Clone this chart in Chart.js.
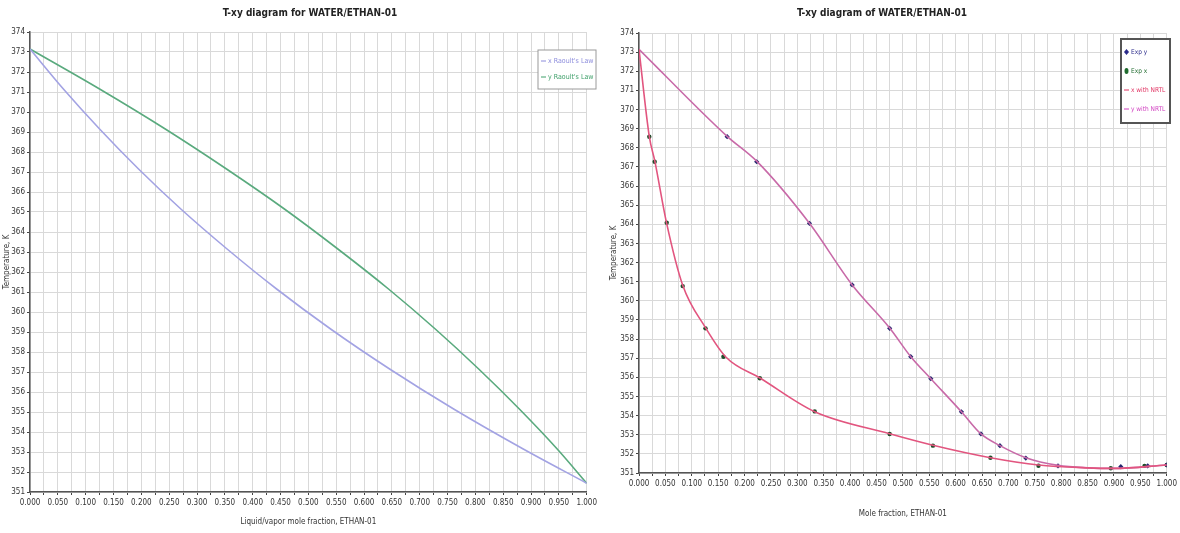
<!DOCTYPE html>
<html><head><meta charset="utf-8">
<script src="https://cdn.jsdelivr.net/npm/chart.js@4.4.1/dist/chart.umd.min.js"></script>
<style>
html,body{margin:0;padding:0;background:#fff;}
#wrap{position:relative;width:1180px;height:533px;overflow:hidden;background:#fff;}
.box{position:absolute;top:0;height:533px;}
</style></head><body>
<div id="wrap">
<div class="box" style="left:0;width:600px"><canvas id="c1" width="600" height="533"></canvas></div>
<div class="box" style="left:600px;width:580px"><canvas id="c2" width="580" height="533"></canvas></div>
</div>
<script>
// ---------- LEFT CHART DATA (Raoult's law) ----------
const leftTitle = 'T-xy diagram for WATER/ETHAN-01';
const leftXTitle = 'Liquid/vapor mole fraction, ETHAN-01';
const leftYTitle = 'Temperature, K';
const leftSeriesNames = ["x Raoult's Law", "y Raoult's Law"];
const leftTemp     = [373.15, 371.15, 369.15, 367.15, 365.15, 363.15, 361.15, 359.15, 357.15, 355.15, 353.15, 351.44];
const leftXLiquid  = [0, 0.060, 0.125, 0.195, 0.271, 0.354, 0.443, 0.540, 0.646, 0.761, 0.886, 1];
const leftYVapor   = [0, 0.125, 0.243, 0.353, 0.457, 0.553, 0.644, 0.728, 0.806, 0.879, 0.947, 1];

// ---------- RIGHT CHART DATA (experimental + NRTL) ----------
const rightTitle = 'T-xy diagram of WATER/ETHAN-01';
const rightXTitle = 'Mole fraction, ETHAN-01';
const rightYTitle = 'Temperature, K';
const rightSeriesNames = ['Exp y', 'Exp x', 'x with NRTL', 'y with NRTL'];
const expYx = [0.167, 0.223, 0.323, 0.404, 0.475, 0.515, 0.553, 0.611, 0.648, 0.684, 0.733, 0.794, 0.913, 0.964, 1.0];
const expYt = [368.58, 367.27, 364.05, 360.83, 358.56, 357.08, 355.93, 354.20, 353.04, 352.43, 351.78, 351.37, 351.33, 351.37, 351.42];
const expXx = [0.0195, 0.0297, 0.0525, 0.0828, 0.126, 0.160, 0.229, 0.333, 0.475, 0.557, 0.666, 0.757, 0.894, 0.958, 1.0];
const expXt = [368.58, 367.27, 364.08, 360.77, 358.56, 357.08, 355.95, 354.22, 353.04, 352.43, 351.80, 351.38, 351.25, 351.37, 351.42];
const nrtlXx = [0, 0.0195, 0.030, 0.052, 0.083, 0.126, 0.165, 0.230, 0.333, 0.475, 0.557, 0.666, 0.757, 0.850, 0.900, 1.0];
const nrtlXt = [373.15, 368.6, 367.3, 364.1, 360.8, 358.6, 357.05, 355.95, 354.2, 353.05, 352.45, 351.8, 351.42, 351.27, 351.24, 351.42];
const nrtlYx = [0, 0.167, 0.223, 0.323, 0.404, 0.475, 0.515, 0.553, 0.611, 0.648, 0.684, 0.733, 0.794, 0.850, 0.900, 1.0];
const nrtlYt = [373.15, 368.6, 367.3, 364.05, 360.83, 358.58, 357.08, 355.93, 354.2, 353.04, 352.43, 351.8, 351.4, 351.27, 351.24, 351.42];

// ---------- helpers ----------
const FONT = "'Liberation Sans Narrow','DejaVu Sans Condensed','Liberation Sans',Arial,sans-serif";
function pts(xs, ts){ return xs.map((x,i)=>({x:x, y:ts[i]})); }

function scales(o){
  return {
    x:{type:'linear', min:0, max:1,
      ticks:{stepSize:0.025, autoSkip:false, maxRotation:0, minRotation:0, color:'#333', padding:o.xPad,
        font:{family:FONT, size:8},
        callback:(v)=> (Math.round(v*1000)%50===0 ? (Math.round(v*1000)/1000).toFixed(3) : '')},
      grid:{color:'#d9d9d9', lineWidth:1, tickColor:'#444', tickLength:3},
      border:{color:'#555', width:1.5},
      title:{display:true, text:o.xTitle, color:'#333', font:{family:FONT, size:8}, padding:o.xTitlePad},
      afterFit:(s)=>{ s.height = o.xH; }
    },
    y:{type:'linear', min:351, max:374,
      ticks:{stepSize:1, autoSkip:false, color:'#333', padding:2, font:{family:FONT, size:8},
        callback:(v)=> String(Math.round(v))},
      grid:{color:'#d9d9d9', lineWidth:1, tickColor:'#444', tickLength:3},
      border:{color:'#555', width:1.5},
      title:{display:true, text:o.yTitle, color:'#333', font:{family:FONT, size:8}, padding:{top:o.yTitlePad,bottom:0}},
      afterFit:(s)=>{ s.width = o.yW; }
    }
  };
}

function decor(o){
  return {
    id:'decor'+o.id,
    afterDraw(chart){
      const ctx = chart.ctx;
      ctx.save();
      ctx.fillStyle = '#222';
      ctx.font = "bold 10px " + FONT;
      ctx.textAlign = 'center'; ctx.textBaseline = 'middle';
      ctx.fillText(o.title, o.titleX, o.titleY);
      // legend box
      const L = o.legend;
      ctx.fillStyle = '#fff';
      ctx.fillRect(L.x, L.y, L.w, L.h);
      ctx.strokeStyle = L.border; ctx.lineWidth = L.bw;
      ctx.strokeRect(L.x, L.y, L.w, L.h);
      ctx.font = L.font + "px " + FONT;
      ctx.textAlign = 'left';
      L.items.forEach((it, i)=>{
        const yy = L.y + L.first + i*L.gap;
        const xx = L.x + 3;
        ctx.fillStyle = it.color; ctx.strokeStyle = it.color;
        if (it.kind === 'line'){
          ctx.lineWidth = 1; ctx.beginPath(); ctx.moveTo(xx, yy); ctx.lineTo(xx+5, yy); ctx.stroke();
        } else if (it.kind === 'diamond'){
          ctx.beginPath(); ctx.moveTo(xx+2.5, yy-3); ctx.lineTo(xx+5, yy); ctx.lineTo(xx+2.5, yy+3); ctx.lineTo(xx, yy); ctx.closePath(); ctx.fill();
        } else {
          ctx.beginPath(); ctx.ellipse(xx+2.5, yy, 2, 3, 0, 0, Math.PI*2); ctx.fill();
        }
        ctx.fillText(it.text, xx+7, yy);
      });
      ctx.restore();
    }
  };
}

// ---------- LEFT CHART ----------
new Chart(document.getElementById('c1'), {
  type:'scatter',
  data:{datasets:[
    {label:leftSeriesNames[0], data:pts(leftXLiquid, leftTemp), showLine:true, borderColor:'#a3a3e3', borderWidth:1.6, pointRadius:0, tension:0.4, cubicInterpolationMode:'monotone'},
    {label:leftSeriesNames[1], data:pts(leftYVapor, leftTemp), showLine:true, borderColor:'#5aaa7e', borderWidth:1.6, pointRadius:0, tension:0.4, cubicInterpolationMode:'monotone'}
  ]},
  options:{
    responsive:false, animation:false, devicePixelRatio:1,
    layout:{padding:{left:0, right:10, top:32, bottom:0}},
    plugins:{legend:{display:false}, tooltip:{enabled:false}},
    scales:scales({xTitle:leftXTitle, yTitle:leftYTitle, xH:41, yW:30, xPad:3, xTitlePad:{top:2,bottom:6}, yTitlePad:2})
  },
  plugins:[decor({id:1, title:leftTitle, titleX:310, titleY:13,
    legend:{x:538, y:50, w:58, h:39, border:'#9a9a9a', bw:1, first:11, gap:16, font:7,
      items:[{kind:'line', color:'#8c8cdc', text:leftSeriesNames[0]},{kind:'line', color:'#3fa06a', text:leftSeriesNames[1]}]}})]
});

// ---------- RIGHT CHART ----------
new Chart(document.getElementById('c2'), {
  type:'scatter',
  data:{datasets:[
    {label:rightSeriesNames[2], data:pts(nrtlXx, nrtlXt), showLine:true, borderColor:'#e2557f', borderWidth:1.6, pointRadius:0, tension:0.4, cubicInterpolationMode:'monotone'},
    {label:rightSeriesNames[3], data:pts(nrtlYx, nrtlYt), showLine:true, borderColor:'#c86aa8', borderWidth:1.6, pointRadius:0, tension:0.4, cubicInterpolationMode:'monotone'},
    {label:rightSeriesNames[0], data:pts(expYx, expYt), showLine:false, pointStyle:'rectRot', pointRadius:2.6, backgroundColor:'#25256e', borderColor:'#25256e', borderWidth:0},
    {label:rightSeriesNames[1], data:pts(expXx, expXt), showLine:false, pointStyle:'circle', pointRadius:2.2, backgroundColor:'#1f4d2a', borderColor:'#1f4d2a', borderWidth:0}
  ]},
  options:{
    responsive:false, animation:false, devicePixelRatio:1,
    layout:{padding:{left:0, right:13, top:33, bottom:0}},
    plugins:{legend:{display:false}, tooltip:{enabled:false}},
    scales:scales({xTitle:rightXTitle, yTitle:rightYTitle, xH:60, yW:39, xPad:3, xTitlePad:{top:2,bottom:14}, yTitlePad:9})
  },
  plugins:[decor({id:2, title:rightTitle, titleX:282, titleY:13,
    legend:{x:521, y:39, w:49, h:84, border:'#555', bw:2, first:13, gap:19, font:6.5,
      items:[{kind:'diamond', color:'#2a2a8a', text:rightSeriesNames[0]},{kind:'dot', color:'#1f6b2e', text:rightSeriesNames[1]},
             {kind:'line', color:'#e03060', text:rightSeriesNames[2]},{kind:'line', color:'#d040c0', text:rightSeriesNames[3]}]}})]
});
</script>
</body></html>
